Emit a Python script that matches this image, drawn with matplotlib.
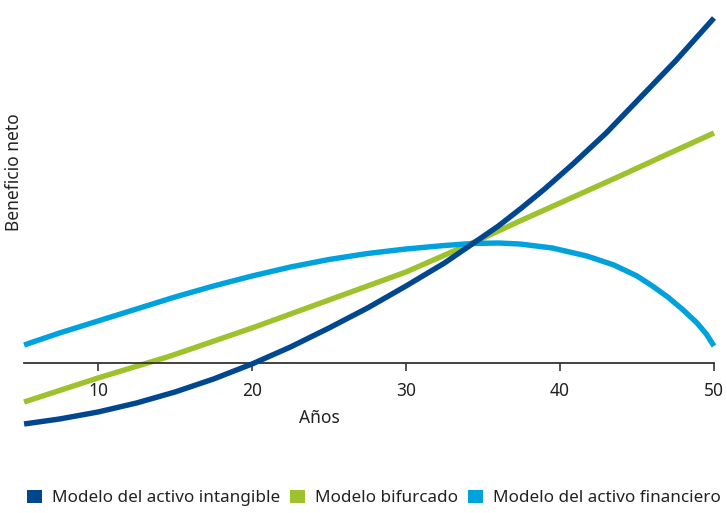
import matplotlib
matplotlib.use('Agg')
import matplotlib.pyplot as plt
from matplotlib.patches import Patch

plt.rcParams['font.family'] = ['Noto Sans', 'DejaVu Sans']

# years, values in arbitrary "net benefit" units
years_intang = [5.2, 7.5, 10, 12.5, 15, 17.5, 20, 22.5, 25, 27.5, 30, 32.5, 34.3, 36, 37.5, 39, 40.84, 43, 45, 47.5, 50]
intangible = [-61, -56, -49, -40, -29, -16, -1, 16, 35, 55, 77, 100, 119, 137, 155, 174, 199, 230, 262, 302, 345]

years_bif = [5.2, 10, 14.7, 20, 25, 30, 34.3, 37.4, 40, 43.9, 47, 50]
bifurcado = [-39, -15, 7, 35, 63, 91, 120, 142, 160, 187, 209, 230]

years_fin = [5.2, 7.5, 10, 12.5, 15, 17.5, 20, 22.5, 25, 27.5, 30, 32.5, 34.3, 36, 37.4, 39.5, 41.75, 43.5, 45, 46, 47, 48, 48.9, 49.5, 50]
financiero = [18, 30, 42, 54, 66, 77, 87, 96, 103.5, 109.5, 114, 117.5, 119.5, 120, 119, 115, 107, 98, 87, 77, 66, 53, 40, 29, 17]

tick_years = [10, 20, 30, 40, 50]
labels = ['Modelo del activo intangible', 'Modelo bifurcado', 'Modelo del activo financiero']
colors = ['#00478F', '#9DC22D', '#00A2DD']

fig = plt.figure(figsize=(7.27, 5.13), dpi=100)
ax = fig.add_axes([20 / 727, 1 - 440 / 513, 702 / 727, 435 / 513])

lw = 3.9
style = dict(lw=lw, solid_capstyle='butt', solid_joinstyle='round')
ax.plot(years_intang, intangible, color=colors[0], zorder=3, **style)
ax.plot(years_bif, bifurcado, color=colors[1], zorder=2, **style)
ax.plot(years_fin, financiero, color=colors[2], zorder=2.5, **style)

ax.set_xlim(4.935, 50.52)
ax.set_ylim(-77, 358)

for s in ['top', 'right', 'left']:
    ax.spines[s].set_visible(False)
ax.spines['bottom'].set_position(('data', 0))
ax.spines['bottom'].set_bounds(5.2, 50)
ax.spines['bottom'].set_color('#333333')
ax.spines['bottom'].set_linewidth(1.3)
ax.set_yticks([])
ax.set_xticks(tick_years)
ax.tick_params(axis='x', direction='out', length=6, width=1.2, color='#333333',
               pad=8, labelsize=12.5, labelcolor='#222222')

ax.text(0.427, 0.05, 'Años', transform=ax.transAxes, ha='center', va='center',
        fontsize=12.5, color='#222222')
fig.text(14 / 727, 1 - 172 / 513, 'Beneficio neto', rotation=90, ha='center',
         va='center', fontsize=12.5, color='#222222')

handles = [Patch(facecolor=c, edgecolor='none') for c in colors]
fig.legend(handles, labels, loc='center left', bbox_to_anchor=(27 / 727, 1 - 498 / 513),
           ncol=3, frameon=False, fontsize=12.3, handlelength=0.85, handleheight=0.85,
           handletextpad=0.6, columnspacing=0.6, borderaxespad=0, borderpad=0,
           labelcolor='#222222')

fig.savefig('out.png', dpi=100)
